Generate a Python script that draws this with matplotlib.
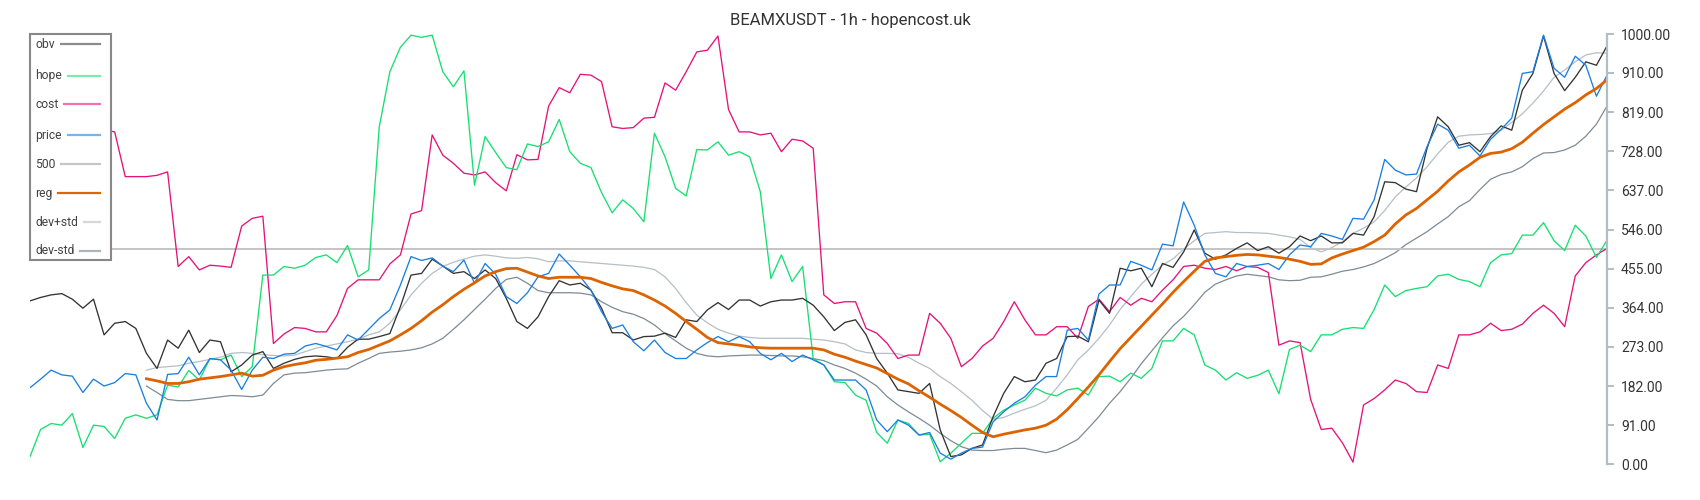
import numpy as np
import matplotlib
matplotlib.use("Agg")
import matplotlib.pyplot as plt
from matplotlib.lines import Line2D
from matplotlib.patches import Rectangle

nan = np.nan
title = "BEAMXUSDT - 1h - hopencost.uk"

obv = [380, 388, 394, 397, 384, 363, 384, 301, 328, 332, 316, 258, 223, 289, 270, 312, 260, 289, 285, 215, 231, 254, 262, 223, 235,
       244, 250, 252, 250, 246, 272, 291, 291, 297, 304, 367, 440, 444, 477, 461, 444, 448, 432, 452, 432, 386, 332, 316, 343, 390, 427,
       417, 421, 405, 363, 306, 306, 289, 297, 298, 305, 295, 336, 332, 359, 376, 360, 382, 382, 368, 378, 382, 382, 386, 370, 343, 311, 330,
       336, 301, 246, 212, 173, 169, 165, 188, 80, 18, 22, 37, 45, 111, 165, 204, 192, 196, 235, 246, 297, 298, 285, 382, 351, 456, 450,
       456, 413, 467, 458, 494, 545, 491, 477, 487, 502, 515, 497, 506, 491, 506, 531, 520, 531, 515, 515, 537, 533, 576, 657, 655, 640,
       634, 735, 808, 785, 742, 748, 727, 762, 787, 777, 870, 909, 996, 909, 869, 900, 936, 928, 973]

hope = [18, 81, 95, 91, 118, 39, 91, 88, 60, 107, 115, 107, 115, 184, 180, 218, 196, 246, 243, 254, 204, 227, 440, 440, 460,
        456, 463, 481, 487, 469, 509, 436, 452, 785, 913, 970, 998, 993, 998, 913, 878, 915, 649, 762, 725, 690, 685, 745, 739, 750, 802,
        727, 700, 690, 632, 585, 615, 595, 564, 770, 715, 642, 624, 732, 731, 750, 719, 727, 715, 634, 432, 487, 425, 460, 246, 231, 192, 190,
        161, 149, 74, 49, 103, 95, 68, 70, 6, 26, 49, 72, 72, 107, 126, 138, 149, 177, 165, 159, 173, 177, 161, 204, 205, 192, 212,
        200, 223, 287, 287, 316, 301, 231, 219, 196, 213, 200, 207, 219, 164, 267, 277, 262, 301, 301, 314, 318, 316, 360, 417, 390, 404,
        409, 413, 438, 442, 430, 425, 413, 469, 487, 490, 533, 533, 562, 520, 497, 556, 531, 481, 521]

cost = [nan] * 7 + [778, 773, 669, 669, 669, 672, 680, 460, 483, 452, 463, 461, 458, 554, 572, 577, 281, 303,
        318, 316, 308, 308, 346, 409, 429, 429, 429, 466, 487, 582, 590, 766, 719, 700, 677, 673, 680, 655, 636, 720, 708, 709, 833, 876,
        864, 907, 905, 890, 785, 781, 783, 805, 807, 887, 870, 913, 959, 963, 996, 825, 773, 773, 766, 770, 727, 756, 752, 735, 394, 374, 378,
        378, 316, 305, 281, 246, 254, 254, 351, 328, 293, 227, 246, 275, 293, 332, 378, 336, 301, 301, 320, 320, 293, 367, 384, 355, 388, 370,
        386, 378, 405, 429, 460, 463, 456, 453, 460, 450, 460, 458, 446, 277, 287, 283, 151, 81, 84, 50, 5, 138, 153, 173, 196, 188,
        169, 167, 231, 223, 301, 301, 308, 328, 311, 314, 326, 351, 370, 351, 320, 438, 469, 487, 502]

price = [178, 198, 219, 208, 205, 167, 198, 182, 190, 211, 208, 142, 103, 209, 211, 249, 208, 246, 243, 219, 174, 219, 249, 246, 256,
         258, 275, 281, 274, 266, 301, 289, 314, 339, 359, 417, 483, 474, 480, 461, 448, 475, 421, 467, 442, 390, 374, 399, 436, 444, 489,
         463, 436, 405, 355, 316, 324, 285, 264, 289, 260, 246, 246, 266, 283, 297, 285, 297, 285, 258, 243, 258, 239, 254, 243, 231, 196, 196,
         196, 173, 103, 76, 103, 91, 68, 74, 26, 12, 26, 37, 40, 99, 122, 142, 157, 184, 204, 204, 312, 316, 289, 396, 417, 417, 472,
         463, 452, 512, 508, 610, 556, 487, 444, 436, 467, 460, 463, 467, 453, 487, 510, 506, 537, 531, 523, 572, 570, 615, 709, 684, 673,
         675, 739, 791, 777, 735, 742, 717, 756, 779, 805, 909, 913, 998, 921, 900, 949, 928, 856, 905]

reg = [nan] * 11 + [199, 194, 188, 188, 192, 198, 201, 204, 208, 212, 205, 207, 219, 227,
       232, 236, 242, 244, 247, 250, 260, 267, 277, 287, 301, 316, 334, 354, 371, 390, 407, 422, 438, 448, 455, 456, 447, 438, 432, 435,
       435, 435, 432, 423, 415, 408, 404, 394, 382, 368, 351, 332, 314, 295, 283, 280, 277, 273, 271, 270, 270, 270, 270, 270, 266, 256, 249,
       240, 232, 224, 211, 198, 187, 171, 156, 140, 125, 109, 91, 74, 64, 70, 75, 80, 84, 91, 105, 127, 153, 180, 208, 239, 269, 295,
       321, 347, 373, 400, 425, 449, 472, 480, 483, 486, 488, 487, 484, 481, 477, 472, 465, 466, 480, 489, 497, 505, 518, 533, 559, 580,
       595, 615, 635, 659, 680, 696, 714, 723, 726, 734, 749, 770, 790, 808, 826, 841, 859, 874, 894]

dev_up = [nan] * 11 + [219, 225, 227, 229, 235, 239, 244, 249, 258, 260, 258, 255, 253, 252,
          254, 262, 270, 275, 280, 285, 291, 301, 308, 328, 359, 394, 421, 444, 460, 470, 477, 484, 487, 484, 480, 479, 481, 478, 471, 473,
          473, 471, 469, 467, 465, 463, 461, 458, 453, 436, 409, 376, 347, 329, 314, 305, 298, 295, 293, 293, 293, 293, 293, 291, 289, 285, 280,
          266, 260, 258, 258, 257, 249, 235, 223, 204, 188, 169, 149, 125, 105, 109, 119, 128, 136, 149, 177, 208, 243, 266, 293, 324, 360, 390,
          419, 442, 463, 478, 500, 520, 537, 539, 541, 539, 539, 538, 537, 533, 529, 523, 504, 494, 504, 518, 537, 549, 564, 590, 622, 645,
          666, 692, 722, 749, 763, 766, 767, 769, 777, 795, 815, 840, 868, 900, 917, 936, 952, 957, 956]

dev_dn = [nan] * 11 + [182, 167, 151, 148, 148, 151, 154, 157, 160, 159, 157, 161, 188, 208,
          212, 213, 216, 219, 221, 222, 235, 246, 258, 261, 263, 266, 271, 280, 293, 314, 336, 360, 384, 409, 430, 435, 421, 404, 399, 399,
          399, 398, 394, 378, 365, 355, 349, 339, 324, 304, 287, 270, 258, 252, 250, 252, 253, 254, 254, 253, 252, 252, 250, 246, 241, 231, 223,
          212, 198, 182, 157, 138, 122, 107, 91, 72, 55, 41, 33, 32, 32, 35, 37, 37, 32, 27, 33, 45, 58, 84, 111, 142, 169, 200,
          234, 264, 294, 322, 344, 371, 400, 419, 429, 438, 442, 439, 436, 429, 427, 428, 435, 436, 442, 449, 453, 459, 467, 479, 492, 511,
          526, 541, 559, 576, 599, 613, 639, 663, 674, 680, 692, 711, 724, 725, 731, 742, 763, 791, 833]

level = 500
yticks = [0, 91, 182, 273, 364, 455, 546, 637, 728, 819, 910, 1000]

names = ['obv', 'hope', 'cost', 'price', '500', 'reg', 'dev+std', 'dev-std']
swatch = ['#8c8c8c', '#7deaa9', '#ee74ad', '#78b4ea', '#c6c6c6', '#d8670c', '#d2d9dd', '#a9b5bc']

plt.rcParams['font.family'] = ['Roboto', 'DejaVu Sans']

W, H = 1700, 500
x = np.arange(len(price))

fig = plt.figure(figsize=(W / 100, H / 100), dpi=100)
ax = fig.add_axes([30 / W, 1 - 464.3 / H, (1607 - 30) / W, 430 / H])

ax.plot(x, dev_up, color='#b4bfc6', lw=0.9)
ax.plot(x, dev_dn, color='#7d8b95', lw=0.9)
ax.axhline(level, color='#c4c4c4', lw=1.4)
ax.plot(x, cost, color='#e5127a', lw=0.95)
ax.plot(x, hope, color='#16df72', lw=0.95)
ax.plot(x, obv, color='#333333', lw=0.95)
ax.plot(x, price, color='#1a7fe0', lw=0.95)
ax.plot(x, reg, color='#dd6300', lw=2.0)

ax.set_xlim(0, len(x) - 1)
ax.set_ylim(0, 1000)
ax.set_xticks([])
ax.yaxis.tick_right()
ax.set_yticks(yticks)
ax.set_yticklabels(['%.2f' % v for v in yticks])
ax.tick_params(axis='y', colors='#b0bec5', labelcolor='#333333', length=5, width=1.4,
               labelsize=10, pad=5)
for side in ['left', 'top', 'bottom']:
    ax.spines[side].set_visible(False)
ax.spines['right'].set_color('#b0bec5')
ax.spines['right'].set_linewidth(1.6)

fig.text(0.5, 1 - 20.5 / H, title, ha='center', va='center', fontsize=12, color='#333333')


# legend box: labels left-aligned, swatch fills the rest of the row
def fx(px):
    return px / W


def fy(py):
    return 1 - py / H


fig.add_artist(Rectangle((fx(30), fy(260)), fx(81), 226 / H, transform=fig.transFigure,
                         facecolor='white', edgecolor='#888888', lw=1.5, zorder=5))
rows = [44, 76, 104, 135, 164, 193, 222, 251]
labels = [fig.text(fx(35), fy(r), n, ha='left', va='center', fontsize=8.7, color='#424242', zorder=6)
          for n, r in zip(names, rows)]
fig.canvas.draw()
rend = fig.canvas.get_renderer()
for t, r, c in zip(labels, rows, swatch):
    x1 = t.get_window_extent(rend).x1 + 6
    fig.add_artist(Line2D([fx(x1), fx(100)], [fy(r), fy(r)], transform=fig.transFigure,
                          color=c, lw=1.6, zorder=6))

fig.savefig('out.png', dpi=100)
